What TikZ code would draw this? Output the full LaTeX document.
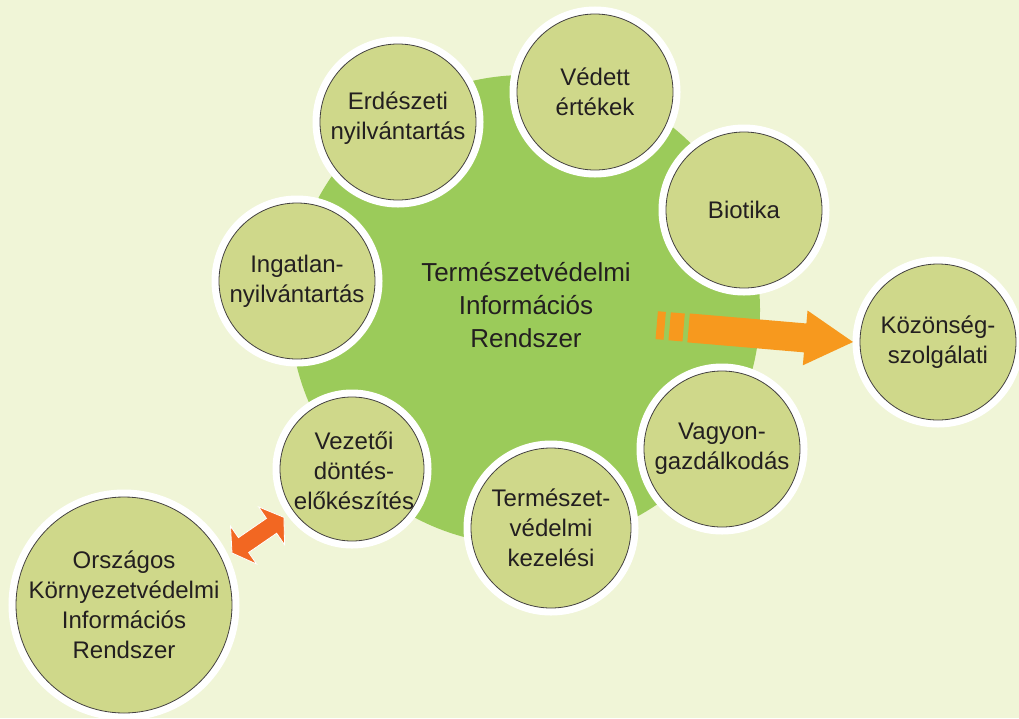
\documentclass[tikz,border=0pt]{standalone}
\usepackage{fontspec}
\setmainfont{Liberation Sans}
\usetikzlibrary{calc}
\definecolor{bgcol}{HTML}{F0F5D7}
\definecolor{bigcol}{HTML}{9BCB5A}
\definecolor{smfill}{HTML}{CFD88A}
\definecolor{txtcol}{HTML}{231F20}
\definecolor{orgcol}{HTML}{F7991E}
\definecolor{dorgcol}{HTML}{F26722}
\begin{document}
\begin{tikzpicture}[x=1pt,y=-1pt,
  smc/.style={circle, draw=txtcol!85, line width=0.8pt, fill=smfill, inner sep=0pt, outer sep=0pt, minimum size=#1, preaction={draw=white, line width=15pt}},
  smc/.default=156,
  lbl/.style={font=\fontsize{24}{30}\selectfont, text=txtcol, align=center, inner sep=0pt},
  biglbl/.style={font=\fontsize{26}{33}\selectfont, text=txtcol, align=center, inner sep=0pt},
]
\fill[bgcol] (0,0) rectangle (1019,718);
\useasboundingbox (0,0) rectangle (1019,718);

\node[circle, fill=bigcol, minimum size=470pt, inner sep=0pt, outer sep=0pt] (tir) at (525,310) {};
\node[biglbl] (tirtxt) at (526,305) {Természetvédelmi\\Információs\\Rendszer};

\node[smc] (erd) at (398,122) {};
\node[lbl] (erdt) at ($(erd)+(0,-4)$) {Erdészeti\\nyilvántartás};
\node[smc] (ved) at (595,92) {};
\node[lbl] (vedt) at (ved) {Védett\\értékek};
\node[smc] (bio) at (744,210) {};
\node[lbl] (biot) at (bio) {Biotika};
\node[smc] (ing) at (297,281) {};
\node[lbl] (ingt) at (ing) {Ingatlan-\\nyilvántartás};
\node[smc] (koz) at (938,342) {};
\node[lbl] (kozt) at (koz) {Közönség-\\szolgálati};
\node[smc] (vag) at (722,449) {};
\node[lbl] (vagt) at (vag) {Vagyon-\\gazdálkodás};
\node[smc=160] (ter) at (551,528) {};
\node[lbl] (tert) at (ter) {Természet-\\védelmi\\kezelési};
\node[smc=144] (vez) at (352,469) {};
\node[lbl] (vezt) at ($(vez)+(2,2)$) {Vezetői\\döntés-\\előkészítés};
\node[smc=216] (orsz) at (124,605) {};
\node[lbl] (orszt) at (orsz) {Országos\\Környezetvédelmi\\Információs\\Rendszer};

% big orange arrow towards Közönségszolgálati
\coordinate (atip) at ($(koz.west)+(-7,0)$);
\begin{scope}[shift={(atip)}, rotate=-4.9]
  \fill[orgcol] (0,0) -- (-48,-27.5) -- (-48,-14.5) -- (-165,-14.5) -- (-165,14.5) -- (-48,14.5) -- (-48,27.5) -- cycle;
  \fill[orgcol] (-170,-14) rectangle (-184,14);
  \fill[orgcol] (-189,-14) rectangle (-197,14);
\end{scope}

% double arrow between Országos and Vezetői
\coordinate (dl) at (232,553);
\begin{scope}[shift={(dl)}, rotate=34.5]
  \filldraw[fill=dorgcol, draw=white, line width=0.8pt, line join=miter] (0,0) -- (14,-23) -- (14,-9) -- (48,-9) -- (48,-23) -- (63,0) -- (48,23) -- (48,9) -- (14,9) -- (14,23) -- cycle;
\end{scope}
\end{tikzpicture}
\end{document}
